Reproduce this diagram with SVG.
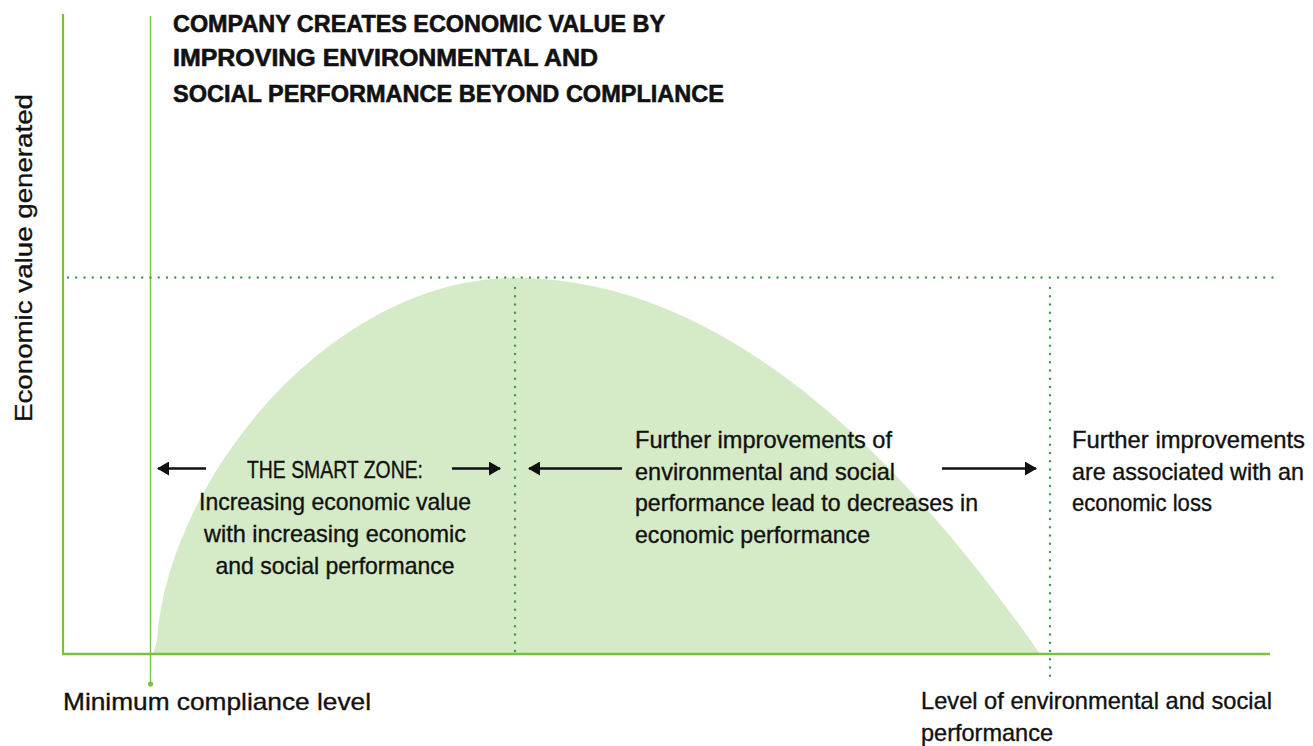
<svg xmlns="http://www.w3.org/2000/svg" width="1313" height="746" viewBox="0 0 1313 746">
<style>
.t{font-family:"Liberation Sans",Arial,sans-serif;font-size:24px;fill:#111;stroke:#111;stroke-width:0.35;}
.b{font-weight:bold;font-size:24px;stroke-width:0.6;}
.ax{stroke:#7ac143;fill:none;}
.dot{stroke:#3f9a4a;stroke-width:2.4;stroke-linecap:round;stroke-dasharray:0 8.25;fill:none;}
.arr{stroke:#111;stroke-width:2.6;fill:none;}
</style>
<defs>
<marker id="ah" viewBox="0 0 12 14" refX="11" refY="7" markerWidth="12" markerHeight="14" markerUnits="userSpaceOnUse" orient="auto-start-reverse">
<path d="M0,0 L12,7 L0,14 z" fill="#111"/>
</marker>
</defs>
<rect width="1313" height="746" fill="#fff"/>
<g id="area">
<path d="M153,654 L157,640 C168,480 330,278 516,278 Q778,278 1040,654 Z" fill="#d5eac6"/>
</g>
<g id="axes">
<line class="ax" x1="63" y1="14" x2="63" y2="655" stroke-width="2.2"/>
<line class="ax" x1="62" y1="654" x2="1270" y2="654" stroke-width="2.6"/>
<line class="ax" x1="150.5" y1="16" x2="150.5" y2="684" stroke-width="1.4"/>
<circle cx="150.5" cy="684" r="2.6" fill="#7ac143"/>
</g>
<g id="guides">
<line class="dot" x1="68" y1="277.5" x2="1278" y2="277.5"/>
<line class="dot" x1="515" y1="288" x2="515" y2="654"/>
<line class="dot" x1="1050" y1="288" x2="1050" y2="684"/>
</g>
<g id="connectors">
<line class="arr" x1="206" y1="468.5" x2="158" y2="468.5" marker-end="url(#ah)"/>
<line class="arr" x1="452" y1="468.5" x2="500" y2="468.5" marker-end="url(#ah)"/>
<line class="arr" x1="622" y1="468.5" x2="529" y2="468.5" marker-end="url(#ah)"/>
<line class="arr" x1="942" y1="468.5" x2="1036" y2="468.5" marker-end="url(#ah)"/>
</g>
<g id="title">
<text class="t b" x="173" y="32" textLength="492" lengthAdjust="spacingAndGlyphs">COMPANY CREATES ECONOMIC VALUE BY</text>
<text class="t b" x="173" y="66" textLength="425" lengthAdjust="spacingAndGlyphs">IMPROVING ENVIRONMENTAL AND</text>
<text class="t b" x="173" y="102" textLength="551" lengthAdjust="spacingAndGlyphs">SOCIAL PERFORMANCE BEYOND COMPLIANCE</text>
</g>
<g id="y-label">
<text class="t" transform="translate(32,258) rotate(-90)" text-anchor="middle" font-size="27" textLength="328" lengthAdjust="spacingAndGlyphs">Economic value generated</text>
</g>
<g id="smart-zone">
<text class="t" x="335" y="478" text-anchor="middle" textLength="176" lengthAdjust="spacingAndGlyphs">THE SMART ZONE:</text>
<text class="t" x="335" y="510" text-anchor="middle" textLength="272" lengthAdjust="spacingAndGlyphs">Increasing economic value</text>
<text class="t" x="335" y="542" text-anchor="middle" textLength="262" lengthAdjust="spacingAndGlyphs">with increasing economic</text>
<text class="t" x="335" y="574" text-anchor="middle" textLength="239" lengthAdjust="spacingAndGlyphs">and social performance</text>
</g>
<g id="decrease-zone">
<text class="t" x="635" y="448" textLength="257" lengthAdjust="spacingAndGlyphs">Further improvements of</text>
<text class="t" x="635" y="480" textLength="260" lengthAdjust="spacingAndGlyphs">environmental and social</text>
<text class="t" x="635" y="511" textLength="343" lengthAdjust="spacingAndGlyphs">performance lead to decreases in</text>
<text class="t" x="635" y="543" textLength="235" lengthAdjust="spacingAndGlyphs">economic performance</text>
</g>
<g id="loss-zone">
<text class="t" x="1072" y="448" textLength="233" lengthAdjust="spacingAndGlyphs">Further improvements</text>
<text class="t" x="1072" y="480" textLength="232" lengthAdjust="spacingAndGlyphs">are associated with an</text>
<text class="t" x="1072" y="511" textLength="140" lengthAdjust="spacingAndGlyphs">economic loss</text>
</g>
<g id="x-labels">
<text class="t" x="63" y="710" textLength="308" lengthAdjust="spacingAndGlyphs">Minimum compliance level</text>
<text class="t" x="921" y="709" textLength="351" lengthAdjust="spacingAndGlyphs">Level of environmental and social</text>
<text class="t" x="921" y="741" textLength="132" lengthAdjust="spacingAndGlyphs">performance</text>
</g>
</svg>
